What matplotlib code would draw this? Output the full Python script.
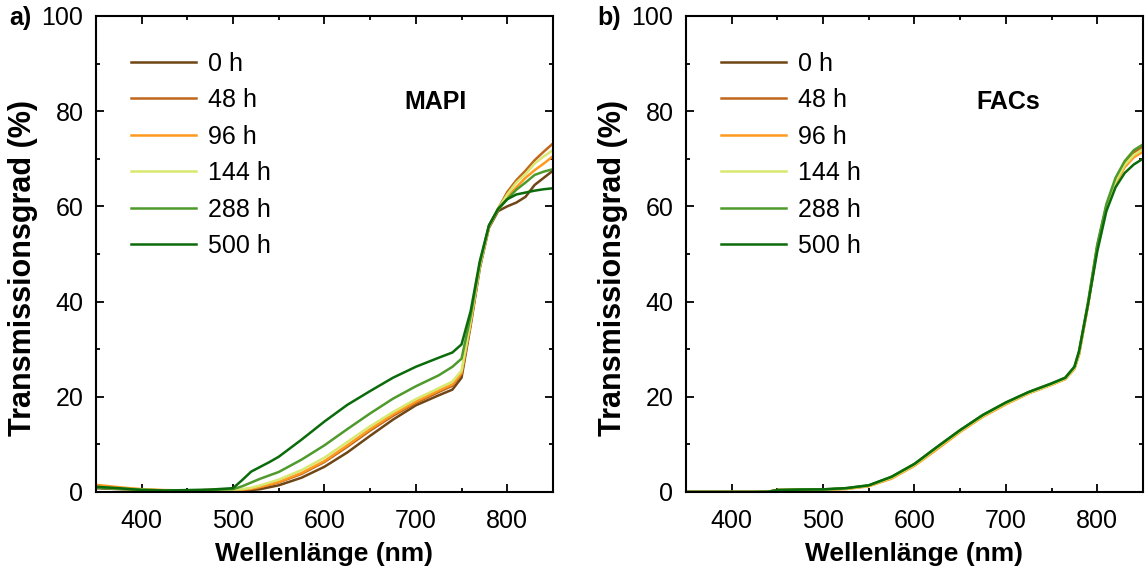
import matplotlib
matplotlib.use("Agg")
import matplotlib.pyplot as plt
from matplotlib.ticker import MultipleLocator

plt.rcParams['font.family'] = ['Liberation Sans', 'DejaVu Sans']

labels = ['0 h', '48 h', '96 h', '144 h', '288 h', '500 h']
colors = ['#6E4514', '#C0661C', '#FF9A1F', '#D8E870', '#4F9A2C', '#0B6B0B']

wl_mapi = [350, 375, 400, 425, 450, 475, 500, 510, 520, 530, 540, 550, 575, 600, 625, 650,
           675, 700, 725, 740, 750, 760, 770, 780, 790, 800, 810, 820, 830, 840, 850]

mapi_0h = [0.8, 0.6, 0.4, 0.3, 0.3, 0.4, 0.4, 0.3, 0.4, 0.6, 1.0, 1.4, 3.0, 5.3, 8.3, 11.8,
           15.2, 18.2, 20.3, 21.5, 24.0, 35.0, 47.0, 55.5, 59.0, 60.0, 60.8, 62.0, 64.5, 66.0, 67.5]
mapi_48h = [1.3, 0.8, 0.5, 0.3, 0.3, 0.4, 0.5, 0.5, 0.6, 1.0, 1.5, 2.0, 3.8, 6.3, 9.5, 12.9,
            16.0, 18.7, 21.0, 22.3, 24.8, 35.5, 47.5, 55.8, 59.5, 63.0, 65.5, 67.5, 69.7, 71.5, 73.2]
mapi_96h = [1.5, 1.0, 0.6, 0.4, 0.3, 0.4, 0.5, 0.5, 0.7, 1.1, 1.6, 2.1, 4.0, 6.5, 9.8, 13.2,
            16.3, 19.0, 21.3, 22.6, 25.0, 35.5, 47.5, 55.8, 59.3, 62.0, 64.0, 66.0, 67.6, 69.0, 70.5]
mapi_144h = [1.0, 0.7, 0.5, 0.3, 0.3, 0.4, 0.5, 0.6, 0.9, 1.4, 2.0, 2.6, 4.6, 7.2, 10.5, 13.8,
             16.8, 19.5, 21.8, 23.2, 25.5, 36.0, 47.5, 55.8, 59.5, 62.5, 65.0, 66.8, 69.0, 70.5, 71.8]
mapi_288h = [0.9, 0.7, 0.5, 0.3, 0.3, 0.4, 0.6, 1.2, 2.0, 2.8, 3.5, 4.2, 6.8, 9.8, 13.2, 16.5,
             19.6, 22.2, 24.5, 26.3, 28.0, 37.0, 48.0, 56.0, 59.3, 61.5, 63.5, 65.0, 66.6, 67.3, 67.8]
mapi_500h = [1.1, 0.8, 0.4, 0.3, 0.4, 0.5, 0.8, 2.5, 4.3, 5.3, 6.3, 7.4, 11.0, 14.8, 18.3, 21.2,
             24.0, 26.3, 28.2, 29.3, 31.0, 38.0, 48.5, 56.0, 59.5, 61.5, 62.5, 62.9, 63.3, 63.6, 63.8]

wl_facs = [350, 375, 400, 425, 440, 450, 475, 500, 525, 550, 575, 600, 625, 650, 675, 700,
           725, 750, 765, 775, 780, 790, 800, 810, 820, 830, 840, 850]

facs_0h = [0.0, 0.0, 0.0, 0.0, 0.05, 0.4, 0.45, 0.5, 0.7, 1.3, 3.0, 5.7, 9.3, 12.8, 16.0, 18.6,
           20.8, 22.6, 23.8, 26.0, 29.0, 39.5, 51.5, 60.0, 65.5, 69.0, 71.2, 72.5]
facs_48h = [0.0, 0.0, 0.0, 0.0, 0.05, 0.4, 0.45, 0.5, 0.7, 1.3, 3.0, 5.7, 9.3, 12.8, 16.0, 18.6,
            20.8, 22.6, 23.8, 26.0, 29.0, 39.5, 51.5, 60.0, 65.5, 69.0, 71.2, 72.6]
facs_96h = [0.0, 0.0, 0.0, 0.0, 0.05, 0.4, 0.45, 0.5, 0.6, 1.2, 2.8, 5.5, 9.0, 12.6, 15.8, 18.4,
            20.7, 22.5, 23.7, 25.8, 28.8, 39.3, 51.2, 59.5, 64.8, 68.2, 70.3, 71.5]
facs_144h = [0.0, 0.0, 0.0, 0.0, 0.05, 0.4, 0.45, 0.5, 0.7, 1.3, 3.0, 5.7, 9.3, 12.8, 16.0, 18.6,
             20.8, 22.6, 23.8, 26.0, 29.0, 39.5, 51.5, 59.8, 65.2, 68.7, 70.8, 72.0]
facs_288h = [0.0, 0.0, 0.0, 0.0, 0.05, 0.4, 0.5, 0.55, 0.8, 1.4, 3.2, 5.9, 9.5, 13.0, 16.2, 18.8,
             21.0, 22.8, 24.0, 26.3, 29.5, 40.0, 52.0, 60.5, 66.0, 69.5, 71.8, 73.0]
facs_500h = [0.0, 0.0, 0.0, 0.0, 0.05, 0.4, 0.5, 0.55, 0.8, 1.4, 3.2, 5.9, 9.5, 13.0, 16.2, 18.8,
             21.0, 22.8, 24.0, 26.3, 29.5, 39.5, 50.5, 59.0, 64.0, 67.0, 68.8, 70.0]

mapi_series = [mapi_0h, mapi_48h, mapi_96h, mapi_144h, mapi_288h, mapi_500h]
facs_series = [facs_0h, facs_48h, facs_96h, facs_144h, facs_288h, facs_500h]

fig = plt.figure(figsize=(11.45, 5.74), dpi=100)
axa = fig.add_axes([0.0838, 0.1429, 0.3991, 0.8293])
axb = fig.add_axes([0.5991, 0.1429, 0.3991, 0.8293])

FS = 18
XLFS = 19
YLFS = 22

def style(ax, wl, series, name, namex):
    for s, c, l in zip(series, colors, labels):
        ax.plot(wl, s, color=c, lw=1.8, label=l)
    ax.set_xlim(350, 850)
    ax.set_ylim(0, 100)
    ax.xaxis.set_major_locator(MultipleLocator(100))
    ax.xaxis.set_minor_locator(MultipleLocator(50))
    ax.yaxis.set_major_locator(MultipleLocator(20))
    ax.yaxis.set_minor_locator(MultipleLocator(10))
    ax.tick_params(which='both', direction='in', top=True, right=True, labelsize=FS, width=1.3)
    ax.tick_params(which='major', length=6)
    ax.tick_params(axis='x', which='major', pad=12)
    ax.tick_params(axis='y', which='major', pad=9)
    ax.tick_params(which='minor', length=3)
    for sp in ax.spines.values():
        sp.set_linewidth(1.5)
    ax.set_xlabel('Wellenlänge (nm)', fontsize=XLFS, fontweight='bold', labelpad=7)
    ax.set_ylabel('Transmissionsgrad (%)', fontsize=YLFS, fontweight='bold')
    ax.yaxis.set_label_coords(-0.127, 0.47)
    ax.text(namex, 82, name, fontsize=FS, fontweight='bold', ha='center', va='center')
    ax.legend(loc='upper left', bbox_to_anchor=(0.038, 0.962), frameon=False, fontsize=FS,
              handlelength=2.62, handletextpad=0.45, labelspacing=0.5, borderaxespad=0.3)

style(axa, wl_mapi, mapi_series, 'MAPI', 721)
style(axb, wl_facs, facs_series, 'FACs', 703)

fig.text(0.008, 0.968, 'a)', fontsize=FS, fontweight='bold', va='center', ha='left')
fig.text(0.522, 0.968, 'b)', fontsize=FS, fontweight='bold', va='center', ha='left')

fig.savefig('out.png', dpi=100)
